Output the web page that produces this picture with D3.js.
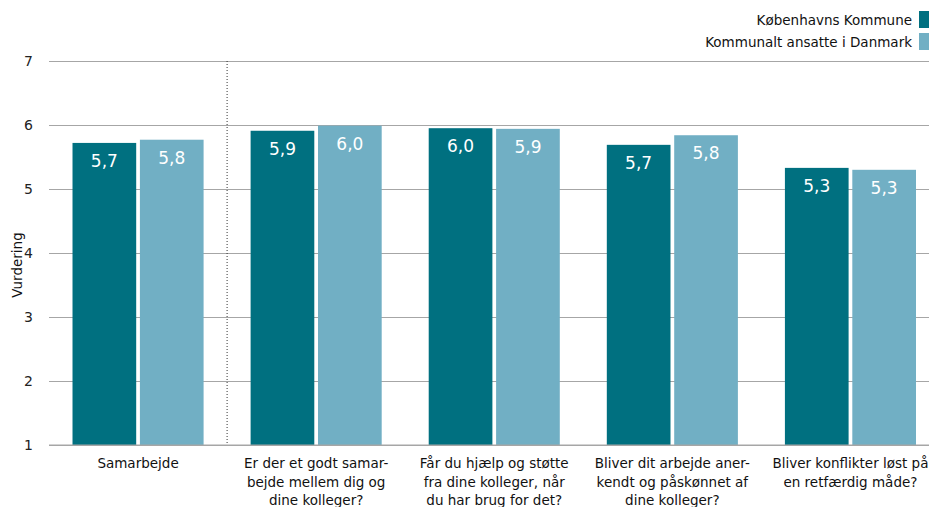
<!DOCTYPE html>
<html><head><meta charset="utf-8">
<script src="https://cdn.jsdelivr.net/npm/d3@7"></script>
<style>body{margin:0;background:#fff}svg{display:block}text{font-family:"DejaVu Sans",sans-serif}</style>
</head><body><svg id="c" width="929" height="507"></svg>
<script>
const categories = [
  ["Samarbejde"],
  ["Er der et godt samar-","bejde mellem dig og","dine kolleger?"],
  ["Får du hjælp og støtte","fra dine kolleger, når","du har brug for det?"],
  ["Bliver dit arbejde aner-","kendt og påskønnet af","dine kolleger?"],
  ["Bliver konflikter løst på","en retfærdig måde?"]
];
const seriesNames = ["Københavns Kommune","Kommunalt ansatte i Danmark"];
const kk = [5.72, 5.91, 5.95, 5.69, 5.33];
const dk = [5.77, 5.99, 5.94, 5.84, 5.30];
const yTicks = [1,2,3,4,5,6,7];
const colors = ["#007080","#71afc4"];

(function(){
const svg = d3.select("#c");
const mLeft = 49, mRight = 939.5, mTop = 61, mBottom = 445;
const x = d3.scaleBand().domain(d3.range(categories.length)).range([mLeft, mRight]).paddingInner(0.264).paddingOuter(0.132);
const xs = d3.scaleBand().domain([0,1]).range([0, x.bandwidth()]).paddingInner(0.055);
const y = d3.scaleLinear().domain([1,7]).range([mBottom, mTop]);

const yAxis = d3.axisLeft(y).tickValues(yTicks).tickSize(-(929-mLeft)).tickFormat(d3.format("d"));
const ga = svg.append("g").attr("transform",`translate(${mLeft},0)`).call(yAxis);
ga.select(".domain").remove();
ga.selectAll(".tick line").attr("stroke","#a6a6a6").attr("stroke-width",1);
ga.selectAll(".tick text").attr("x",-16).attr("font-size",14).attr("fill","#222").attr("font-family","DejaVu Sans");

const sepX = (x(0)+x.bandwidth()+x(1))/2;
svg.append("line").attr("x1",sepX).attr("x2",sepX).attr("y1",mTop).attr("y2",mBottom)
  .attr("stroke","#333").attr("stroke-dasharray","1,2").attr("stroke-width",1);

const data = categories.map((c,i)=>({i, vals:[kk[i],dk[i]]}));
const g = svg.selectAll(".grp").data(data).join("g").attr("class","grp").attr("transform",d=>`translate(${x(d.i)},0)`);
g.selectAll("rect").data(d=>d.vals.map((v,j)=>({v,j}))).join("rect")
  .attr("x",d=>xs(d.j)).attr("width",xs.bandwidth())
  .attr("y",d=>y(d.v)).attr("height",d=>y(1)-y(d.v)).attr("fill",d=>colors[d.j]);
g.selectAll("text.v").data(d=>d.vals.map((v,j)=>({v,j}))).join("text").attr("class","v")
  .attr("x",d=>xs(d.j)+xs.bandwidth()/2).attr("y",d=>y(d.v)+24)
  .attr("text-anchor","middle").attr("fill","#fff").attr("font-size",17)
  .text(d=>d3.format(".1f")(d.v).replace(".",","));

svg.append("line").attr("x1",mLeft).attr("x2",929).attr("y1",mBottom).attr("y2",mBottom).attr("stroke","#a6a6a6");

categories.forEach((lines,i)=>{
  const cx = x(i)+x.bandwidth()/2;
  const t = svg.append("text").attr("x",cx).attr("y",468).attr("text-anchor","middle")
    .attr("font-size",13.5).attr("fill","#111");
  lines.forEach((l,k)=>t.append("tspan").attr("x",cx).attr("dy",k?18.5:0).text(l));
});

svg.append("text").attr("transform","translate(22,265) rotate(-90)").attr("text-anchor","middle")
  .attr("font-size",13.5).attr("fill","#111").text("Vurdering");

seriesNames.forEach((n,i)=>{
  const yy = 11 + i*22;
  svg.append("rect").attr("x",919).attr("y",yy).attr("width",12).attr("height",17).attr("fill",colors[i]);
  svg.append("text").attr("x",912).attr("y",yy+13.5).attr("text-anchor","end").attr("font-size",13.5).attr("fill","#111").text(n);
});
})();
</script></body></html>
